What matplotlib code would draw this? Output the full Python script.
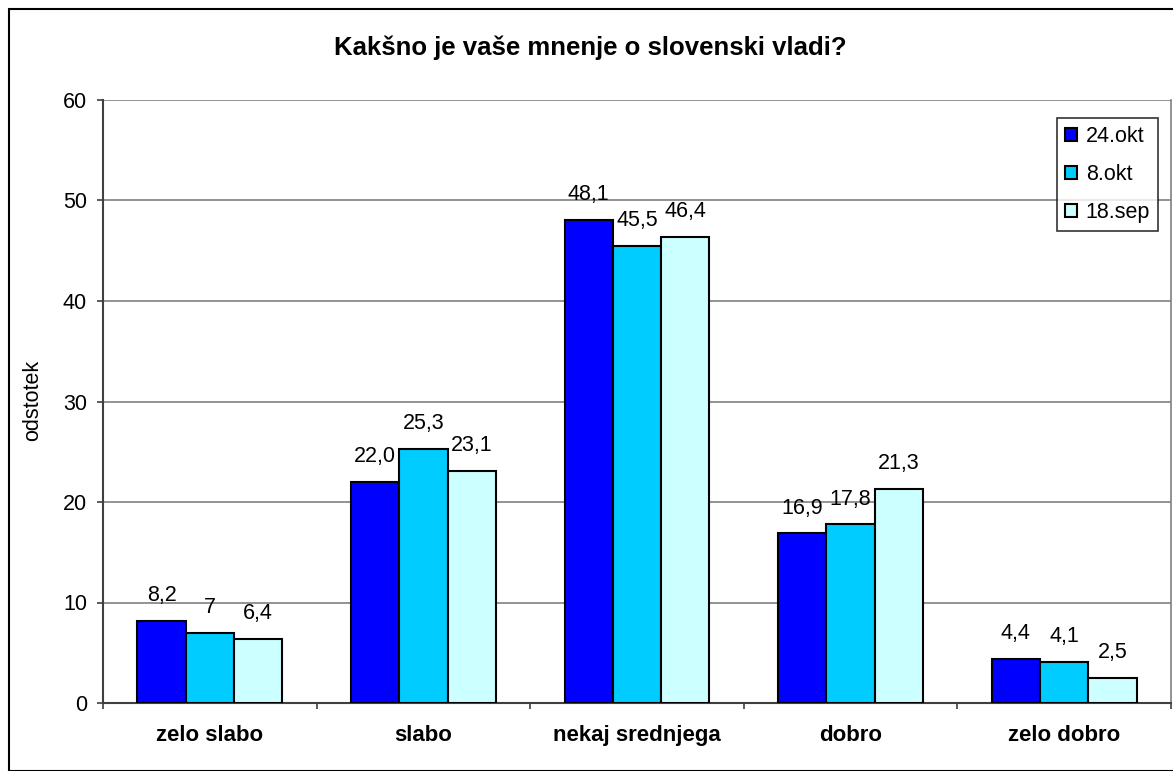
import matplotlib
matplotlib.use("Agg")
import matplotlib.pyplot as plt
import numpy as np
from matplotlib.patches import Rectangle

categories = ["zelo slabo", "slabo", "nekaj srednjega", "dobro", "zelo dobro"]
series_names = ["24.okt", "8.okt", "18.sep"]
v_24okt = [8.2, 22.0, 48.1, 16.9, 4.4]
v_8okt = [7.0, 25.3, 45.5, 17.8, 4.1]
v_18sep = [6.4, 23.1, 46.4, 21.3, 2.5]
labels_24okt = ["8,2", "22,0", "48,1", "16,9", "4,4"]
labels_8okt = ["7", "25,3", "45,5", "17,8", "4,1"]
labels_18sep = ["6,4", "23,1", "46,4", "21,3", "2,5"]
yticks = [0, 10, 20, 30, 40, 50, 60]

colors = ["#0000FF", "#00CCFF", "#CCFFFF"]

plt.rcParams['font.family'] = ['Liberation Sans', 'DejaVu Sans']

W, H = 1173, 771
fig = plt.figure(figsize=(W / 100, H / 100), dpi=100)
fig.patches.append(Rectangle((9 / W, 0), 1.2, (H - 9) / H, transform=fig.transFigure,
                             fill=False, edgecolor="black", linewidth=1.5))

ax = fig.add_axes([103 / W, 1 - 703 / H, (1171 - 103) / W, (703 - 100) / H])
x = np.arange(len(categories))
bw = 0.226
series = [v_24okt, v_8okt, v_18sep]
labs = [labels_24okt, labels_8okt, labels_18sep]
for i, (vals, lab) in enumerate(zip(series, labs)):
    xs = x + (i - 1) * bw
    ax.bar(xs, vals, width=bw, color=colors[i], edgecolor="black", linewidth=1.5,
           label=series_names[i], zorder=3)
    for xi, v, t in zip(xs, vals, lab):
        ax.annotate(t, (xi, v), xytext=(0, 14), textcoords="offset points",
                    ha="center", va="baseline", fontsize=15.5, zorder=4)

ax.set_xlim(-0.5, len(categories) - 0.5)
ax.set_ylim(0, 60)
ax.set_yticks(yticks)
ax.set_yticklabels([str(t) for t in yticks], fontsize=15.5)
ax.yaxis.grid(True, color="#808080", linewidth=1.2, zorder=0)
ax.set_axisbelow(True)

ax.set_xticks(np.arange(len(categories) + 1) - 0.5)
ax.set_xticklabels([])
ax.set_xticks(x, minor=True)
ax.set_xticklabels(categories, minor=True, fontsize=16, fontweight="bold")
ax.tick_params(axis="x", which="minor", length=0, pad=15.5)
ax.tick_params(axis="x", which="major", length=4.5, color="#404040", width=1.2, direction="out")
ax.tick_params(axis="y", length=4.5, color="#404040", width=1.2, direction="out", pad=7)

for s in ["left", "bottom"]:
    ax.spines[s].set_color("#404040")
    ax.spines[s].set_linewidth(1.5)
ax.spines["right"].set_color("#808080")
ax.spines["right"].set_linewidth(1.2)
ax.spines["top"].set_visible(False)

fig.text(33 / W, 1 - 400 / H, "odstotek", rotation=90, ha="center", va="center", fontsize=15.5)

fig.text(590 / W, 1 - 48 / H, "Kakšno je vaše mnenje o slovenski vladi?",
         ha="center", va="center", fontsize=18.5, fontweight="bold")

leg = ax.legend(loc="upper left", bbox_to_anchor=((1057 - 103) / (1171 - 103), (703 - 118) / (703 - 100)),
                fontsize=15.5, frameon=True, fancybox=False, edgecolor="black",
                handlelength=0.55, handleheight=0.55, handletextpad=0.42,
                labelspacing=0.8, borderpad=0.37, borderaxespad=0)
leg.get_frame().set_linewidth(1.2)

fig.savefig("out.png", dpi=100)
